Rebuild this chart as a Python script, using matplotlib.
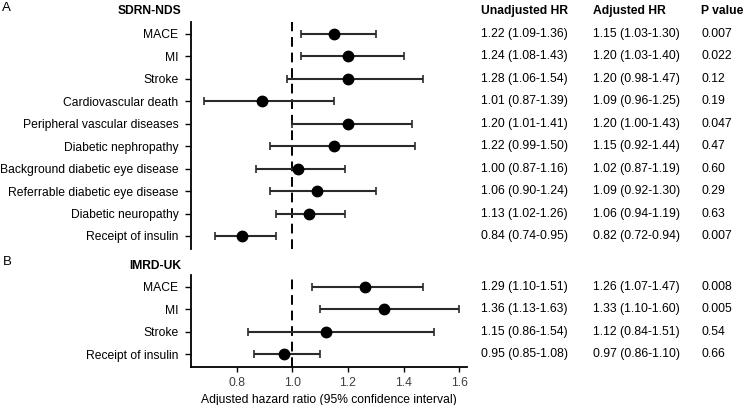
import numpy as np
import matplotlib
matplotlib.use("Agg")
from matplotlib import pyplot as plt
from matplotlib.transforms import blended_transform_factory

plt.rcParams['font.family'] = ['Liberation Sans', 'DejaVu Sans']
plt.rcParams['font.size'] = 8.7

# panel A: SDRN-NDS
a_labels = ["MACE", "MI", "Stroke", "Cardiovascular death",
            "Peripheral vascular diseases", "Diabetic nephropathy",
            "Background diabetic eye disease", "Referrable diabetic eye disease",
            "Diabetic neuropathy", "Receipt of insulin"]
a_hr = [1.15, 1.20, 1.20, 0.89, 1.20, 1.15, 1.02, 1.09, 1.06, 0.82]
a_lo = [1.03, 1.03, 0.98, 0.68, 1.00, 0.92, 0.87, 0.92, 0.94, 0.72]
a_hi = [1.30, 1.40, 1.47, 1.15, 1.43, 1.44, 1.19, 1.30, 1.19, 0.94]
a_unadj = ["1.22 (1.09-1.36)", "1.24 (1.08-1.43)", "1.28 (1.06-1.54)",
           "1.01 (0.87-1.39)", "1.20 (1.01-1.41)", "1.22 (0.99-1.50)",
           "1.00 (0.87-1.16)", "1.06 (0.90-1.24)", "1.13 (1.02-1.26)",
           "0.84 (0.74-0.95)"]
a_adj = ["1.15 (1.03-1.30)", "1.20 (1.03-1.40)", "1.20 (0.98-1.47)",
         "1.09 (0.96-1.25)", "1.20 (1.00-1.43)", "1.15 (0.92-1.44)",
         "1.02 (0.87-1.19)", "1.09 (0.92-1.30)", "1.06 (0.94-1.19)",
         "0.82 (0.72-0.94)"]
a_p = ["0.007", "0.022", "0.12", "0.19", "0.047", "0.47", "0.60", "0.29",
       "0.63", "0.007"]

# panel B: IMRD-UK
b_labels = ["MACE", "MI", "Stroke", "Receipt of insulin"]
b_hr = [1.26, 1.33, 1.12, 0.97]
b_lo = [1.07, 1.10, 0.84, 0.86]
b_hi = [1.47, 1.60, 1.51, 1.10]
b_unadj = ["1.29 (1.10-1.51)", "1.36 (1.13-1.63)", "1.15 (0.86-1.54)",
           "0.95 (0.85-1.08)"]
b_adj = ["1.26 (1.07-1.47)", "1.33 (1.10-1.60)", "1.12 (0.84-1.51)",
         "0.97 (0.86-1.10)"]
b_p = ["0.008", "0.005", "0.54", "0.66"]

xticks = [0.8, 1.0, 1.2, 1.4, 1.6]

W, H = 745, 405
fig = plt.figure(figsize=(W / 100, H / 100), dpi=100)

def px_box(x0, y0, x1, y1):
    # pixel box (top-left origin) -> figure fraction rect
    return [x0 / W, 1 - y1 / H, (x1 - x0) / W, (y1 - y0) / H]

axA = fig.add_axes(px_box(191, 22, 467, 249))
axB = fig.add_axes(px_box(191, 275, 467, 367))

col_x = [481 / W, 593 / W, 701 / W]

def draw_panel(ax, labels, hr, lo, hi, unadj, adj, pv, bottom):
    n = len(labels)
    y = np.arange(n)
    hr = np.array(hr); lo = np.array(lo); hi = np.array(hi)
    ax.errorbar(hr, y, xerr=[hr - lo, hi - hr], fmt='none', ecolor='#2a2a2a',
                elinewidth=1.5, capsize=2.6, capthick=1.2, zorder=2)
    ax.plot(hr, y, 'o', color='black', markersize=7.5, zorder=3)
    ax.axvline(1.0, color='black', lw=1.4, ls=(0, (5, 3)), zorder=1)
    ax.set_xlim(0.635, 1.628)
    ax.set_ylim(n - 0.42, -0.53)
    ax.set_yticks(y)
    ax.set_yticklabels(labels)
    ax.tick_params(axis='y', length=4, width=1, pad=5)
    for s in ['top', 'right']:
        ax.spines[s].set_visible(False)
    ax.spines['left'].set_linewidth(1.3)
    if bottom:
        ax.spines['bottom'].set_linewidth(1.3)
        ax.set_xticks(xticks)
        ax.set_xticklabels(["%.1f" % t for t in xticks], color='#404040')
        ax.tick_params(axis='x', length=3.5, width=1, pad=4)
        ax.set_xlabel("Adjusted hazard ratio (95% confidence interval)",
                      labelpad=3)
    else:
        ax.spines['bottom'].set_visible(False)
        ax.set_xticks([])

    tr = blended_transform_factory(fig.transFigure, ax.transData)
    for i in range(n):
        ax.text(col_x[0], i, unadj[i], transform=tr, va='center', ha='left')
        ax.text(col_x[1], i, adj[i], transform=tr, va='center', ha='left')
        ax.text(col_x[2], i, pv[i], transform=tr, va='center', ha='left')

draw_panel(axA, a_labels, a_hr, a_lo, a_hi, a_unadj, a_adj, a_p, False)
draw_panel(axB, b_labels, b_hr, b_lo, b_hi, b_unadj, b_adj, b_p, True)

# headers
fig.text(181 / W, 1 - 11 / H, "SDRN-NDS", ha='right', va='center', fontweight='bold')
fig.text(181 / W, 1 - 266 / H, "IMRD-UK", ha='right', va='center', fontweight='bold')
fig.text(2 / W, 1 - 8 / H, "A", ha='left', va='center', fontsize=9.5)
fig.text(3 / W, 1 - 262 / H, "B", ha='left', va='center', fontsize=9.5)
for x, t in zip(col_x, ["Unadjusted HR", "Adjusted HR", "P value"]):
    fig.text(x, 1 - 11 / H, t, ha='left', va='center', fontweight='bold')

fig.savefig("out.png", dpi=100)
